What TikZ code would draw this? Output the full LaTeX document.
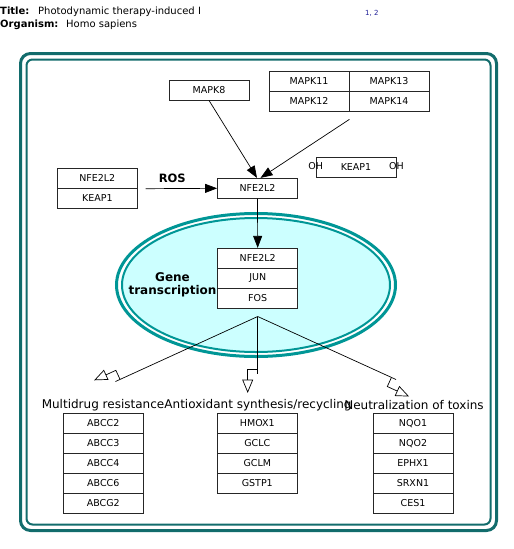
\documentclass[tikz,border=0pt]{standalone}
\usepackage{fontspec}
\setmainfont{DejaVu Sans}
\usetikzlibrary{arrows.meta}
\definecolor{cellteal}{RGB}{18,108,108}
\definecolor{nucring}{RGB}{0,150,150}
\definecolor{nucfill}{RGB}{204,255,255}
\definecolor{refblue}{RGB}{30,30,150}
\begin{document}
\begin{tikzpicture}[x=1pt, y=1pt,
    gene/.style={draw=black!85, line width=0.8pt, fill=white, minimum width=80pt, minimum height=20pt, inner sep=0pt, font=\fontsize{9.5}{11}\selectfont},
    act/.style={-{Triangle[length=12pt,width=9pt]}, line width=0.7pt},
    head text/.style={anchor=base west, inner sep=0pt, font=\fontsize{10}{12}\selectfont},
    group label/.style={font=\fontsize{12}{14}\selectfont},
    bold label/.style={font=\fontsize{12}{13}\selectfont\bfseries, align=center},
    txhead/.pic={
      \draw[line width=0.7pt] (-5,0) -- (-5,-10) -- (6,-10);
      \draw[line width=0.7pt, fill=white] (6,-5) -- (18,-10) -- (6,-15) -- cycle;
    }
  ]
    \useasboundingbox (0,0) rectangle (514,-549);
    % Header
    \node[head text, font=\fontsize{10}{12}\selectfont\bfseries] (ttl) at (0,-14) {Title:};
    \node[head text] (ttltext) at (38,-14) {Photodynamic therapy-induced I};
    \node[head text, font=\fontsize{10}{12}\selectfont\bfseries] (org) at (0,-27.3) {Organism:};
    \node[head text] (orgtext) at (66,-27.3) {Homo sapiens};
    \node[head text, text=refblue, font=\fontsize{7}{8}\selectfont] (refs) at (365,-15.5) {1, 2};
    % Cell
    \draw[cellteal, line width=3pt, rounded corners=10pt] (20.5,-53.5) rectangle (496.5,-530.5);
    \draw[cellteal, line width=2pt, rounded corners=6pt] (26.5,-59.5) rectangle (490.5,-524.5);
    % Nucleus
    \draw[nucring, line width=3pt, fill=white] (256,-285) ellipse [x radius=139.5, y radius=71.5];
    \draw[nucring, line width=2pt, fill=nucfill] (256,-285) ellipse [x radius=134, y radius=67];
    \node[bold label] (gtx) at (172.5,-285) {Gene\\transcription};
    % Kinases
    \node[gene] (mapk8) at (209,-90) {MAPK8};
    \node[gene] (mapk11) at (309,-81) {MAPK11};
    \node[gene] (mapk13) at (389,-81) {MAPK13};
    \node[gene] (mapk12) at (309,-101) {MAPK12};
    \node[gene] (mapk14) at (389,-101) {MAPK14};
    % NFE2L2 and KEAP1
    \node[gene] (nrfc) at (97.3,-178.3) {NFE2L2};
    \node[gene] (keapc) at (97.3,-198.3) {KEAP1};
    \node[bold label, font=\fontsize{11.5}{13}\selectfont\bfseries] (ros) at (172.3,-178) {ROS};
    \node[gene] (nrf) at (257.5,-188.3) {NFE2L2};
    \node[gene] (keapox) at (356,-167.3) {KEAP1};
    \node[font=\fontsize{9.5}{11}\selectfont, inner sep=0pt] (ohl) at ([yshift=1.3pt]keapox.west) {OH};
    \node[font=\fontsize{9.5}{11}\selectfont, inner sep=0pt] (ohr) at ([yshift=1.3pt]keapox.east) {OH};
    % Transcription factors
    \node[gene] (nuc1) at (257.7,-258.3) {NFE2L2};
    \node[gene] (nuc2) at (257.7,-278.3) {JUN};
    \node[gene] (nuc3) at (257.7,-298.3) {FOS};
    % Activation arrows
    \draw[act] (mapk8.south) -- ([xshift=-0.5pt]nrf.north);
    \draw[act] ([yshift=-8pt]mapk12.south east) -- ([xshift=3pt]nrf.north);
    \draw[act] ([xshift=8pt]nrfc.south east) -- (nrf.west);
    \draw[act] (nrf.south) -- (nuc1.north);
    % Transcription
    \coordinate (tx) at (257.7,-316.5);
    \coordinate (mdrend) at (115.5,-381.5);
    \coordinate (antend) at (257.7,-374);
    \coordinate (toxend) at (396,-379.5);
    \draw[line width=0.7pt] (tx) -- (mdrend) pic[rotate=204.6]{txhead};
    \draw[line width=0.7pt] (tx) -- (antend) pic[rotate=-90]{txhead};
    \draw[line width=0.7pt] (tx) -- (toxend) pic[rotate=-24.5]{txhead};
    % Target genes
    \node[group label] (mdr) at (103,-405) {Multidrug resistance};
    \node[group label] (ant) at (258,-405) {Antioxidant synthesis/recycling};
    \node[group label] (tox) at (414,-405) {Neutralization of toxins};
    \foreach \g [count=\i] in {ABCC2,ABCC3,ABCC4,ABCC6,ABCG2}
      \node[gene] (mdr\i) at (103.3,{-423.3-20*(\i-1)}) {\g};
    \foreach \g [count=\i] in {HMOX1,GCLC,GCLM,GSTP1}
      \node[gene] (ant\i) at (257.3,{-423.3-20*(\i-1)}) {\g};
    \foreach \g [count=\i] in {NQO1,NQO2,EPHX1,SRXN1,CES1}
      \node[gene] (tox\i) at (413,{-423.3-20*(\i-1)}) {\g};
\end{tikzpicture}
\end{document}
